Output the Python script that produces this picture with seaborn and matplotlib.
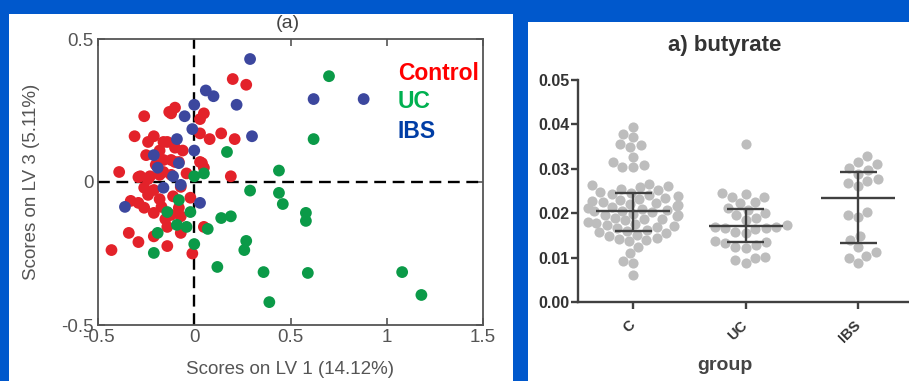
import matplotlib.pyplot as plt
import pandas as pd
import seaborn as sns
from matplotlib.patches import Rectangle

# ---- panel (a): PLS-DA scores ----
control_x = [0.20, 0.27, -0.10, -0.13, -0.26, 0.05, 0.03, -0.31, -0.21, -0.24, -0.16, -0.14,
             0.03, 0.08, 0.14, 0.21, -0.18, -0.25, -0.12, -0.08, 0.03, 0.05, -0.39, -0.29,
             -0.24, -0.18, -0.16, 0.19, -0.12, -0.06, -0.16, -0.10, -0.28, -0.23, -0.12, -0.04,
             0.04, -0.20, -0.21, -0.33, -0.29, -0.26, -0.21, -0.17, -0.12, -0.08, -0.07, -0.14,
             -0.34, -0.29, -0.21, -0.14, -0.07, -0.43, -0.01, 0.05, -0.02, -0.07, -0.24, -0.18,
             -0.11, -0.26, -0.15, -0.10]
control_y = [0.36, 0.34, 0.26, 0.245, 0.23, 0.24, 0.22, 0.16, 0.16, 0.14, 0.14, 0.14,
             0.17, 0.15, 0.17, 0.15, 0.11, 0.094, 0.077, 0.07, 0.07, 0.05, 0.035, 0.017,
             0.01, 0.025, 0.035, 0.02, 0.24, 0.11, 0.077, 0.07, 0.02, 0.02, 0.025, 0.03,
             0.066, 0.06, -0.028, -0.066, -0.073, -0.09, -0.108, -0.087, -0.115, -0.09, -0.12, -0.157,
             -0.178, -0.21, -0.19, -0.224, -0.178, -0.238, -0.25, -0.157, -0.055, -0.017, -0.045, -0.06,
             -0.05, -0.02, -0.13, 0.12]
uc_x = [0.17, 0.00, 0.05, 0.29, -0.08, -0.14, -0.02, -0.09, -0.04, 0.07, 0.14, 0.19,
        -0.19, 0.00, -0.21, 0.27, 0.26, 0.12, 0.36, 0.39, 0.70, 0.62, 0.44, 0.44,
        0.46, 0.58, 0.58, 0.59, 1.08, 1.18]
uc_y = [0.105, 0.02, 0.03, -0.03, -0.063, -0.105, -0.105, -0.15, -0.157, -0.164, -0.126, -0.12,
        -0.178, -0.217, -0.248, -0.206, -0.238, -0.297, -0.315, -0.42, 0.37, 0.15, 0.04, -0.038,
        -0.077, -0.108, -0.136, -0.318, -0.315, -0.395]
ibs_x = [0.29, 0.06, 0.10, 0.00, 0.22, -0.05, -0.01, -0.09, 0.30, 0.00, -0.21, -0.19,
         -0.08, -0.11, -0.16, -0.07, -0.36, 0.03, 0.62, 0.88]
ibs_y = [0.43, 0.32, 0.30, 0.27, 0.27, 0.23, 0.185, 0.15, 0.16, 0.11, 0.094, 0.05,
         0.066, 0.02, -0.02, -0.01, -0.087, -0.073, 0.29, 0.29]

class_names = ["Control", "UC", "IBS"]
point_colors = ["#E3222A", "#0B9A48", "#3C479E"]
legend_colors = ["#FF0000", "#00B050", "#003DA5"]
score_ticks = [-0.5, 0, 0.5, 1, 1.5]
lv3_ticks = [-0.5, 0, 0.5]

# ---- panel a): butyrate ----
groups = ["C", "UC", "IBS"]
c_vals = [0.0395, 0.0378, 0.0371, 0.0355, 0.0353, 0.0348, 0.0326, 0.0315, 0.0308, 0.0303, 0.0303,
          0.0265, 0.0263, 0.0261, 0.0258, 0.0255, 0.0252, 0.0248, 0.0246, 0.0243, 0.0241, 0.0238,
          0.0235, 0.0233, 0.0230, 0.0228, 0.0226, 0.0223, 0.0221, 0.0219, 0.0216, 0.0214, 0.0212,
          0.0210, 0.0208, 0.0206, 0.0204, 0.0202, 0.0199, 0.0197, 0.0195, 0.0193, 0.0190, 0.0188,
          0.0186, 0.0184, 0.0181, 0.0179, 0.0176, 0.0174, 0.0171, 0.0168, 0.0166, 0.0163, 0.0160,
          0.0157, 0.0155, 0.0152, 0.0148, 0.0145, 0.0142, 0.0140, 0.0137, 0.0125, 0.0110, 0.0092,
          0.0088, 0.0061]
uc_vals = [0.0355, 0.0245, 0.0243, 0.0236, 0.0236, 0.0225, 0.0222, 0.0211, 0.0207, 0.0200, 0.0196,
           0.0189, 0.0185, 0.0173, 0.0169, 0.0168, 0.0166, 0.0166, 0.0165, 0.0157, 0.0155, 0.0137,
           0.0135, 0.0133, 0.0128, 0.0124, 0.0121, 0.0101, 0.0100, 0.0094, 0.0088]
ibs_vals = [0.0328, 0.0315, 0.0310, 0.0301, 0.0297, 0.0288, 0.0276, 0.0272, 0.0267, 0.0261, 0.0202,
            0.0196, 0.0191, 0.0148, 0.0139, 0.0124, 0.0112, 0.0103, 0.0099, 0.0088]
group_mean = [0.0204, 0.0171, 0.0234]
group_low = [0.0160, 0.0135, 0.0133]
group_high = [0.0245, 0.0209, 0.0292]
butyrate_ticks = [0.00, 0.01, 0.02, 0.03, 0.04, 0.05]

sns.set_theme(style="white")
plt.rcParams["font.family"] = ["Liberation Sans", "DejaVu Sans"]

W, H = 909, 381
fig = plt.figure(figsize=(W / 100, H / 100), dpi=100, facecolor="#0058CC")


def px_rect(x0, y0, x1, y1, color, z):
    fig.patches.append(Rectangle((x0 / W, 1 - y1 / H), (x1 - x0) / W, (y1 - y0) / H,
                                 transform=fig.transFigure, facecolor=color,
                                 edgecolor="none", zorder=z))


px_rect(9, 0, 513, H, "white", -5)
px_rect(528, 22, W, H, "white", -5)
px_rect(0, 0, W, 14, "#0058CC", 20)

# left panel
ax1 = fig.add_axes([98 / W, 1 - 325 / H, 385 / W, 286 / H])
scores = pd.DataFrame({
    "lv1": control_x + uc_x + ibs_x,
    "lv3": control_y + uc_y + ibs_y,
    "cls": ["Control"] * len(control_x) + ["UC"] * len(uc_x) + ["IBS"] * len(ibs_x),
})
sns.scatterplot(data=scores, x="lv1", y="lv3", hue="cls", hue_order=class_names,
                palette=point_colors, s=72, linewidth=0, alpha=1, legend=False, ax=ax1, zorder=3)
ax1.axhline(0, color="black", lw=1.7, ls=(0, (5, 2.8)), zorder=2)
ax1.axvline(0, color="black", lw=1.7, ls=(0, (5, 2.8)), zorder=2)
ax1.set_xlim(-0.5, 1.5)
ax1.set_ylim(-0.5, 0.5)
ax1.set_xticks(score_ticks)
ax1.set_xticklabels(["-0.5", "0", "0.5", "1", "1.5"])
ax1.set_yticks(lv3_ticks)
ax1.set_yticklabels(["-0.5", "0", "0.5"])
ax1.tick_params(direction="in", length=5, width=1.2, colors="#555555", labelsize=13.5,
                top=True, right=True, bottom=True, left=True, pad=3)
for sp in ax1.spines.values():
    sp.set_color("#555555")
    sp.set_linewidth(1.3)
ax1.set_xlabel("Scores on LV 1 (14.12%)", fontsize=13.5, color="#555555")
ax1.set_ylabel("Scores on LV 3 (5.11%)", fontsize=13.5, color="#555555")
ax1.xaxis.set_label_coords(0.5, -0.125)
ax1.yaxis.set_label_coords(-0.15, 0.5)
fig.text(288 / W, 1 - 24 / H, "(a)", ha="center", va="center", fontsize=14,
         color="#444444", zorder=10)
for name, col, ly in zip(class_names, legend_colors, [0.381, 0.28, 0.175]):
    ax1.text(1.058, ly, name, color=col, fontsize=16.5, fontweight="bold",
             ha="left", va="center")

# right panel
ax2 = fig.add_axes([578 / W, 1 - 302 / H, (W - 578 + 2) / W, 222 / H])
butyrate = pd.DataFrame({
    "group": ["C"] * len(c_vals) + ["UC"] * len(uc_vals) + ["IBS"] * len(ibs_vals),
    "value": c_vals + uc_vals + ibs_vals,
})
sns.swarmplot(data=butyrate, x="group", y="value", order=groups, color="#BDBDBD",
              size=7.3, linewidth=0, ax=ax2, zorder=2)
for i, g in enumerate(groups):
    ax2.hlines(group_mean[i], i - 0.33, i + 0.33, color="#404040", lw=1.7, zorder=4)
    ax2.hlines([group_low[i], group_high[i]], i - 0.165, i + 0.165, color="#404040", lw=1.7, zorder=4)
    ax2.vlines(i, group_low[i], group_high[i], color="#404040", lw=1.7, zorder=4)
ax2.set_xlim(-0.49, 2.47)
ax2.set_ylim(0, 0.05)
ax2.set_yticks(butyrate_ticks)
ax2.set_yticklabels([f"{t:.2f}" for t in butyrate_ticks])
sns.despine(ax=ax2)
for sp in ("left", "bottom"):
    ax2.spines[sp].set_color("#404040")
    ax2.spines[sp].set_linewidth(1.7)
ax2.tick_params(axis="both", direction="out", length=5, width=1.7, colors="#404040",
                labelcolor="#333333", left=True, bottom=True)
ax2.tick_params(axis="y", labelsize=11.5, pad=1)
ax2.tick_params(axis="x", labelsize=10.5, pad=10)
for lab in ax2.get_yticklabels():
    lab.set_fontweight("bold")
for lab in ax2.get_xticklabels():
    lab.set_fontweight("bold")
    lab.set_rotation(45)
    lab.set_ha("right")
    lab.set_va("center")
    lab.set_rotation_mode("anchor")
ax2.set_ylabel("")
ax2.set_xlabel("group", fontsize=14, fontweight="bold", color="#444444")
ax2.xaxis.set_label_coords(0.44, -0.25)
ax2.set_title("a) butyrate", fontsize=16, fontweight="bold", color="#333333", x=0.44, pad=21)

fig.savefig("out.png", dpi=100, facecolor=fig.get_facecolor())
